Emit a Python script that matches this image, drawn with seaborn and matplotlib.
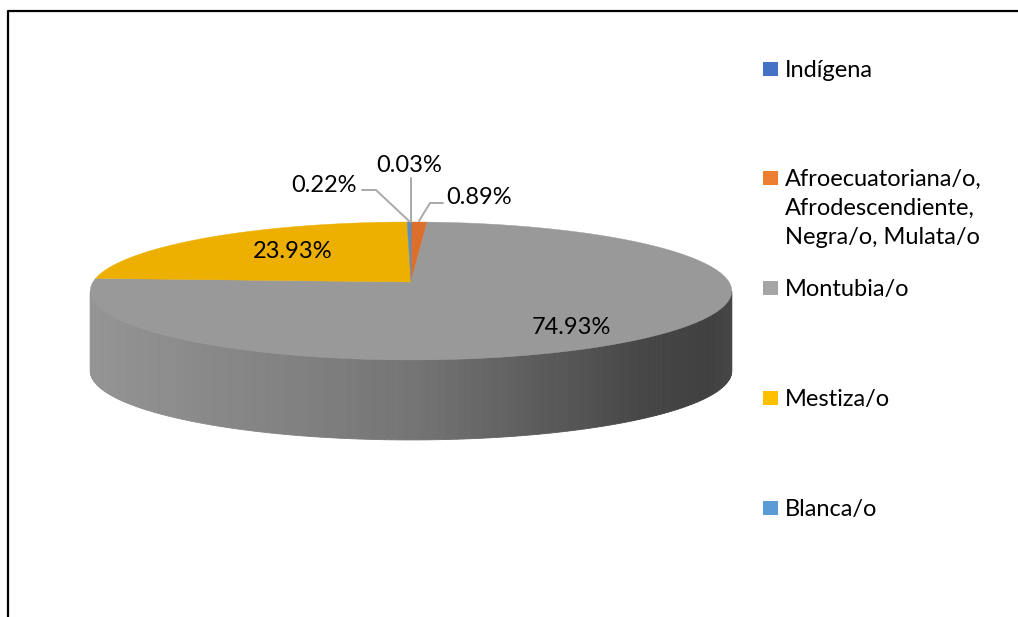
import numpy as np
import matplotlib
matplotlib.use("Agg")
import matplotlib.pyplot as plt
import seaborn as sns

# --- Data ---
categories = ["Indígena", "Afroecuatoriana/o,\nAfrodescendiente,\nNegra/o, Mulata/o", "Montubia/o", "Mestiza/o", "Blanca/o"]
percentages = [0.03, 0.89, 74.93, 23.93, 0.22]
top_colors = ["#4472C4", "#DD6F2C", "#999999", "#EDB000", "#5B8FC0"]
legend_colors = ["#4472C4", "#ED7D31", "#A5A5A5", "#FFC000", "#5B9BD5"]
wall_shades = ["#969696", "#929292", "#8C8C8C", "#828282", "#757575", "#5C5C5C", "#464646", "#404040", "#484848"]

# --- Pie geometry (pixels of the reference) ---
CX, CY = 411, 282
RX, RY = 318, 67.8
PERSP = 0.13
DEPTH = 80


def project(angle):
    """Circle angle (clockwise from 12 o'clock) to the tilted pie plane."""
    u, v = np.sin(angle), np.cos(angle)
    w = 1 + PERSP * v
    return CX + RX * u / w, CY - RY * v / w


sns.set_theme(style="white")
plt.rcParams['font.family'] = ['Lato', 'DejaVu Sans']

fig, ax = plt.subplots(figsize=(10.18, 6.17), dpi=100)
fig.subplots_adjust(left=0, right=1, bottom=0, top=1)
ax.set_xlim(0, 1018)
ax.set_ylim(617, 0)
ax.axis("off")

# frame, only left and top show in the reference
ax.plot([8, 8, 1018], [617, 11, 11], color="black", lw=1.6, solid_capstyle="butt")

# side wall, drawn as thin strips so the shading runs left to right
wall_angles = np.linspace(np.radians(97.5), np.radians(262.5), 161)
strip_colors = sns.blend_palette(wall_shades, n_colors=len(wall_angles) - 1)
wall_x, wall_y = project(wall_angles)
order = np.argsort(wall_x)
wall_x, wall_y = wall_x[order], wall_y[order]
for i, col in enumerate(strip_colors):
    ax.fill([wall_x[i], wall_x[i + 1], wall_x[i + 1], wall_x[i]],
            [wall_y[i], wall_y[i + 1], wall_y[i + 1] + DEPTH, wall_y[i] + DEPTH],
            color=col, lw=0.6, zorder=2)

# top face
edges = np.concatenate([[0], np.cumsum(percentages)]) / sum(percentages) * 2 * np.pi
for start, stop, col in zip(edges[:-1], edges[1:], top_colors):
    arc = np.linspace(start, stop, max(3, int((stop - start) * 120)))
    x, y = project(arc)
    ax.fill(np.r_[CX, x], np.r_[CY, y], color=col, lw=0.3, zorder=3)

# leader lines for the thin slices
leaders = [([411, 411], [178, 222]), ([362, 376, 409], [190, 190, 221]), ([443, 430, 419], [203, 203, 221])]
for lx, ly in leaders:
    ax.plot(lx, ly, color="#A9A9A9", lw=1.4, zorder=4)

# data labels, same order as percentages
label_x = [409, 479, 571, 293, 324]
label_y = [165, 198, 328, 251, 185]
for val, lx, ly in zip(percentages, label_x, label_y):
    ax.text(lx, ly, f"{val:.2f}%", ha="center", va="center", fontsize=17, color="black", zorder=5)

# legend entries, evenly spaced by their first line
legend_y = [69, 178, 288, 398, 508]
for name, col, ly in zip(categories, legend_colors, legend_y):
    ax.add_patch(plt.Rectangle((763, ly - 7), 15, 14, color=col, lw=0))
    ax.text(785, ly - 9, name, ha="left", va="top", fontsize=17, color="black", linespacing=1.48)

fig.savefig("out.png", dpi=100)
